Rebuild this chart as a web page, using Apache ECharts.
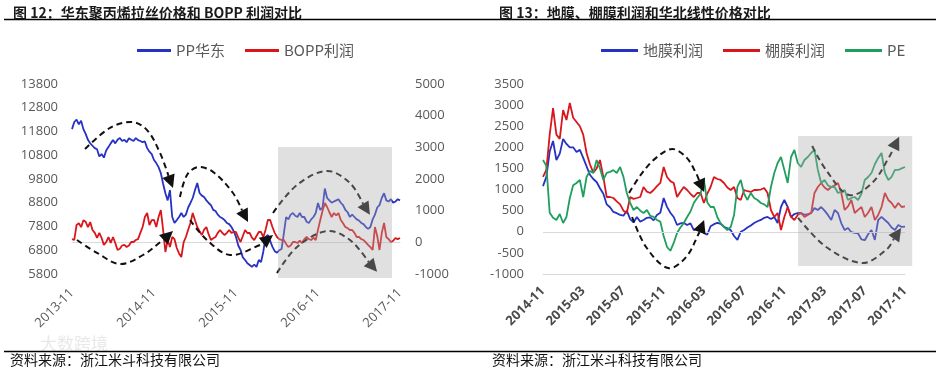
<!DOCTYPE html>
<html>
<head>
<meta charset="utf-8">
<script src="https://cdn.jsdelivr.net/npm/echarts@6/dist/echarts.min.js"></script>
<style>
html,body{margin:0;padding:0;background:#fff;}
#c{width:938px;height:370px;}
</style>
</head>
<body>
<div id="c"></div>
<script>
// ---------- Chart 12 data (10-day steps) ----------
const dates1 = [
'2013-11-01','2013-11-11','2013-11-21','2013-12-01','2013-12-11','2013-12-21',
'2014-01-01','2014-01-11','2014-01-21','2014-02-01','2014-02-11','2014-02-21','2014-03-01','2014-03-11','2014-03-21',
'2014-04-01','2014-04-11','2014-04-21','2014-05-01','2014-05-11','2014-05-21','2014-06-01','2014-06-11','2014-06-21',
'2014-07-01','2014-07-11','2014-07-21','2014-08-01','2014-08-11','2014-08-21','2014-09-01','2014-09-11','2014-09-21',
'2014-10-01','2014-10-11','2014-10-21','2014-11-01','2014-11-11','2014-11-21','2014-12-01','2014-12-11','2014-12-21',
'2015-01-01','2015-01-11','2015-01-21','2015-02-01','2015-02-11','2015-02-21','2015-03-01','2015-03-11','2015-03-21',
'2015-04-01','2015-04-11','2015-04-21','2015-05-01','2015-05-11','2015-05-21','2015-06-01','2015-06-11','2015-06-21',
'2015-07-01','2015-07-11','2015-07-21','2015-08-01','2015-08-11','2015-08-21','2015-09-01','2015-09-11','2015-09-21',
'2015-10-01','2015-10-11','2015-10-21','2015-11-01','2015-11-11','2015-11-21','2015-12-01','2015-12-11','2015-12-21',
'2016-01-01','2016-01-11','2016-01-21','2016-02-01','2016-02-11','2016-02-21','2016-03-01','2016-03-11','2016-03-21',
'2016-04-01','2016-04-11','2016-04-21','2016-05-01','2016-05-11','2016-05-21','2016-06-01','2016-06-11','2016-06-21',
'2016-07-01','2016-07-11','2016-07-21','2016-08-01','2016-08-11','2016-08-21','2016-09-01','2016-09-11','2016-09-21',
'2016-10-01','2016-10-11','2016-10-21','2016-11-01','2016-11-11','2016-11-21','2016-12-01','2016-12-11','2016-12-21',
'2017-01-01','2017-01-11','2017-01-21','2017-02-01','2017-02-11','2017-02-21','2017-03-01','2017-03-11','2017-03-21',
'2017-04-01','2017-04-11','2017-04-21','2017-05-01','2017-05-11','2017-05-21','2017-06-01','2017-06-11','2017-06-21',
'2017-07-01','2017-07-11','2017-07-21','2017-08-01','2017-08-11','2017-08-21','2017-09-01','2017-09-11','2017-09-21',
'2017-10-01','2017-10-11','2017-10-21','2017-11-01'
];
const ppEast = [
11900,12200,12300, 12100,12250,11900, 11700,11450,11300, 11200,11100,11050, 10750,10850,10700, 11000,11150,11300,
11440,11300,11450, 11530,11400,11450, 11350,11520,11450, 11400,11520,11440, 11400,11350,11380, 11100,10950,10850,
10600,10470,10300, 10050,9600,9200, 8900,9330,8200, 7950,8070,8200, 8370,8200,8300, 8600,8790,9000,
9340,9630,9210, 9100,9040,8900, 8790,8700,8500, 8450,8300,8200, 8150,8070,7950, 7900,7780,7600,
7360,7000,6810, 6500,6390,6250, 6180,6100,6200, 6100,6390,6300, 6750,7360,7440, 7200,6940,6760,
6700,6800,6850, 7500,8200,8100, 8300,8370,8250, 8200,8370,8200, 8200,8000,7950, 8100,8200,8370,
8790,8500,8600, 9400,9000,8900, 8800,8850,8900, 8950,8800,8700, 8500,8400,8200, 8300,8200,8100,
8050,7950,7900, 7780,7700,7780, 8100,8300,8600, 8700,9000,9200, 8900,8850,8950, 8800,8850,8950,
8900
];
const boppProfit = [
100,80,550, 600,480,700, 650,480,640, 390,300,140, 300,137,-80, 10,168,-20,
170,-20,-240, -200,-100,-80, -147,-100,10, 10,73,100, 300,484,800, 926,547,700,
705,484,800, 1021,389,-305, 73,-147,168, 100,-179,-350, -463,0,168, 400,610,926,
700,484,350, 231,400,484, 250,73,130, 168,300,389, 300,231,300, 389,300,326,
326,150,10, 200,389,295, 295,150,73, 200,326,326, 168,400,705, 705,484,300,
168,100,73, 73,-50,-147, -100,10,10, -21,50,-21, 100,168,100, 73,150,73,
400,705,1000, 1242,1116,950, 800,926,850, 926,705,600, 484,450,389, 389,300,168,
168,100,73, 0,-84,-150, -242,484,200, -242,300,610, 168,100,10, 50,137,100,
137
];
// ---------- Chart 13 data ----------
const dates2 = dates1.slice(36); // 2014-11-01 .. 2017-11-01
const mulchProfit = [
1080,1300,1900, 2150,1700,1850, 2200,2080,2000, 2000,1890,1940, 1750,1550,1350, 1250,1180,1030,
900,650,580, 470,440,400, 380,500,300, 220,350,240, 280,330,340, 270,400,450,
800,590,450, 350,160,200, 210,160,200, 40,80,90, -30,-70,130, 180,210,190,
120,80,40, -100,-190,0, 42,100,150, 209,250,280, 330,351,300, 351,209,587,
753,587,351, 420,445,445, 400,420,445, 560,516,587, 500,400,279, 516,445,200,
42,90,-10, -28,-40,-180, -200,-60,42, -194,279,351, 279,209,100, 42,161,114,
120
];
const shedProfit = [
1298,1464,2300, 2930,2300,2200, 2884,2647,3050, 2700,2600,2500, 2300,1866,1600, 1400,1500,1700,
1300,824,824, 800,720,650, 500,445,824, 780,800,824, 1061,950,919, 990,1080,1156,
1535,1298,1200, 1156,824,950, 1061,990,900, 824,919,919, 682,900,1061, 1298,1250,1227,
1156,1050,990, 1061,800,753, 990,960,943, 990,990,1000, 1037,919,516, 351,445,42,
351,587,351, 279,400,445, 351,400,445, 919,1061,1156, 1050,990,1061, 1100,1156,919,
516,600,753, 445,520,587, 351,450,587, 279,400,587, 919,753,682, 563,682,587,
600
];
const pePrice = [
1700,1560,450, 330,279,420, 209,351,800, 1100,1156,1227, 824,1298,1440, 1393,1700,1500,
1227,1393,1420, 1460,1393,1535, 1300,919,682, 516,587,500, 445,516,380, 351,279,240,
-100,-360,-450, -265,-28,100, 209,351,480, 682,800,900, 1227,700,587, 587,350,200,
114,42,114, 400,1061,1227, 900,753,919, 800,753,682, 650,587,1061, 1393,1629,1771,
1464,1156,1771, 1937,1629,1535, 1700,1771,1866, 1937,1464,1156, 1227,1100,1061, 1061,919,950,
990,753,800, 824,753,900, 1227,1298,1393, 1600,1750,1866, 1393,1227,1300, 1464,1464,1500,
1535
];
// ---------- annotations (x = months from axis start, y = axis value) ----------
const arrows1 = [
  [[1.9,11060],[5.56,11950],[8.78,12200],[10.98,11860],[12.88,10900],[14.78,9420]],
  [[0.73,7230],[3.66,6690],[7.02,6220],[10.39,6600],[13.32,7230],[14.78,7610]],
  [[15.8,9040],[16.83,9970],[18.44,10300],[20.63,10100],[23.56,9210],[25.76,7990]],
  [[17.27,8070],[19.76,7230],[23.12,6600],[27.51,7020],[29.42,7440]],
  [[29.42,8370],[32.93,9550],[37.32,10140],[40.68,9630],[43.6,8290]],
  [[30.0,5840],[32.93,6940],[37.32,7610],[40.68,7230],[44.64,5890]]
];
const box1 = [[30.15,11150],[46.83,5630]];
const arrows2 = [
  [[8.56,920],[9.85,1390],[11.24,1750],[12.84,1960],[14.23,1770],[15.22,1390],[16.02,940]],
  [[8.86,350],[10.25,-360],[12.44,-860],[14.23,-600],[15.52,-30],[16.02,280]],
  [[26.77,2030],[28.16,1460],[30.45,870],[32.74,1160],[34.43,1770],[35.42,2250]],
  [[25.37,330],[28.16,-360],[31.74,-740],[34.13,-430],[35.62,90]]
];
const box2 = [[25.37,2270],[36.72,-810]];

const FONT = 'Open Sans, Noto Sans CJK SC, sans-serif';
const CJK = 'Noto Sans CJK SC, sans-serif';
const BLUE = '#2632c2', RED = '#d9161c', GREEN = '#1f9e5f';

const chart = echarts.init(document.getElementById('c'));
const axLabel = {color:'#595959', fontSize:13, fontFamily:FONT};
const plain = v => String(v);
chart.setOption({
  animation:false,
  backgroundColor:'#fff',
  title:[
    {text:'图 12：华东聚丙烯拉丝价格和 BOPP 利润对比', left:8, top:1,
     textStyle:{fontSize:14, fontWeight:'bold', color:'#1a1a1a', fontFamily:CJK}},
    {text:'图 13：地膜、棚膜利润和华北线性价格对比', left:494, top:1,
     textStyle:{fontSize:14, fontWeight:'bold', color:'#1a1a1a', fontFamily:CJK}}
  ],
  legend:[
    {left:132, top:38, itemWidth:34, itemHeight:3, itemGap:20, icon:'rect',
     data:['PP华东','BOPP利润'], textStyle:{fontSize:15, color:'#595959', fontFamily:CJK}},
    {left:596, top:38, itemWidth:37, itemHeight:3, itemGap:20, icon:'rect',
     data:['地膜利润','棚膜利润','PE'], textStyle:{fontSize:15, color:'#595959', fontFamily:CJK}}
  ],
  grid:[
    {left:72, top:84, width:328, height:190},
    {left:543, top:84, width:362, height:190}
  ],
  xAxis:[
    {type:'category', gridIndex:0, data:dates1, boundaryGap:false,
     axisLine:{lineStyle:{color:'#d9d9d9'}}, axisTick:{show:false},
     axisLabel:Object.assign({}, axLabel, {interval:35, rotate:45, margin:17,
       formatter:v=>v.slice(0,7)})},
    {type:'category', gridIndex:1, data:dates2, boundaryGap:false,
     axisLine:{onZero:false, lineStyle:{color:'#d9d9d9'}}, axisTick:{show:false},
     axisLabel:Object.assign({}, axLabel, {interval:11, rotate:45, margin:15, fontWeight:'bold', color:'#4a4a4a',
       formatter:v=>v.slice(0,7)})}
  ],
  yAxis:[
    {type:'value', gridIndex:0, min:5800, max:13800, interval:1000, splitLine:{show:false},
     axisLine:{show:false}, axisTick:{show:false}, axisLabel:Object.assign({}, axLabel, {margin:14, formatter:plain})},
    {type:'value', gridIndex:0, position:'right', min:-1000, max:5000, interval:1000, splitLine:{show:false},
     axisLine:{show:false}, axisTick:{show:false}, axisLabel:Object.assign({}, axLabel, {margin:15, formatter:plain})},
    {type:'value', gridIndex:1, min:-1000, max:3500, interval:500, splitLine:{show:false},
     axisLine:{show:false}, axisTick:{show:false}, axisLabel:Object.assign({}, axLabel, {margin:19, formatter:plain})}
  ],
  series:[
    {name:'PP华东', type:'line', xAxisIndex:0, yAxisIndex:0, data:ppEast, showSymbol:false,
     color:BLUE, lineStyle:{width:1.8, color:BLUE}},
    {name:'BOPP利润', type:'line', xAxisIndex:0, yAxisIndex:1, data:boppProfit, showSymbol:false,
     color:RED, lineStyle:{width:1.8, color:RED}},
    {name:'地膜利润', type:'line', xAxisIndex:1, yAxisIndex:2, data:mulchProfit, showSymbol:false,
     color:BLUE, lineStyle:{width:1.8, color:BLUE},
     markLine:{silent:true, symbol:'none', label:{show:false}, lineStyle:{color:'#d9d9d9', width:1, type:'solid'},
       data:[{yAxis:0}]}},
    {name:'棚膜利润', type:'line', xAxisIndex:1, yAxisIndex:2, data:shedProfit, showSymbol:false,
     color:RED, lineStyle:{width:1.8, color:RED}},
    {name:'PE', type:'line', xAxisIndex:1, yAxisIndex:2, data:pePrice, showSymbol:false,
     color:GREEN, lineStyle:{width:1.8, color:GREEN}}
  ]
});

// convert [months, value] to pixels using the series' own axes
function toPx(seriesIndex, nCat, m, v) {
  const a = chart.convertToPixel({seriesIndex}, [0, v]);
  const b = chart.convertToPixel({seriesIndex}, [nCat - 1, v]);
  const idx = m * 3;
  return [a[0] + (b[0] - a[0]) * idx / (nCat - 1), a[1]];
}
function arrowEls(list, si, n) {
  const els = [];
  list.forEach(pts => {
    const p = pts.map(q => toPx(si, n, q[0], q[1]));
    const T = p[p.length - 1], P = p[p.length - 2];
    let dx = T[0] - P[0], dy = T[1] - P[1];
    const len = Math.hypot(dx, dy); dx /= len; dy /= len;
    const L = 13, W = 6.5;
    const B = [T[0] - dx * L, T[1] - dy * L];
    const line = p.slice(0, -1).concat([B]);
    els.push({type:'polyline', z:50, silent:true,
      shape:{points:line, smooth:0.35},
      style:{stroke:'#111', lineWidth:2, lineDash:[6,4], fill:null}});
    els.push({type:'polygon', z:51, silent:true,
      shape:{points:[T, [B[0] - dy * W, B[1] + dx * W], [B[0] + dy * W, B[1] - dx * W]]},
      style:{fill:'#111'}});
  });
  return els;
}
function boxEl(b, si, n) {
  const a = toPx(si, n, b[0][0], b[0][1]);
  const c = toPx(si, n, b[1][0], b[1][1]);
  return {type:'rect', z:60, silent:true,
    shape:{x:a[0], y:a[1], width:c[0] - a[0], height:c[1] - a[1]},
    style:{fill:'rgba(172,172,172,0.37)'}};
}
const g = [];
g.push(...arrowEls(arrows1, 0, dates1.length));
g.push(...arrowEls(arrows2, 2, dates2.length));
g.push(boxEl(box1, 0, dates1.length));
g.push(boxEl(box2, 2, dates2.length));
// frame rules and source notes
g.push({type:'line', z:5, shape:{x1:4, y1:19.5, x2:936, y2:19.5}, style:{stroke:'#000', lineWidth:1.3}});
g.push({type:'line', z:5, shape:{x1:4, y1:351.5, x2:936, y2:351.5}, style:{stroke:'#000', lineWidth:1.3}});
g.push({type:'text', z:5, x:10, y:353, style:{text:'资料来源：浙江米斗科技有限公司', fontSize:14, fill:'#111', fontFamily:CJK}});
g.push({type:'text', z:5, x:492, y:353, style:{text:'资料来源：浙江米斗科技有限公司', fontSize:14, fill:'#111', fontFamily:CJK}});
g.push({type:'text', z:4, x:40, y:335, style:{text:'大数跨境', fontSize:17, fill:'rgba(190,190,190,0.35)', fontFamily:CJK}});
chart.setOption({graphic:{elements:g}});
</script>
</body>
</html>
